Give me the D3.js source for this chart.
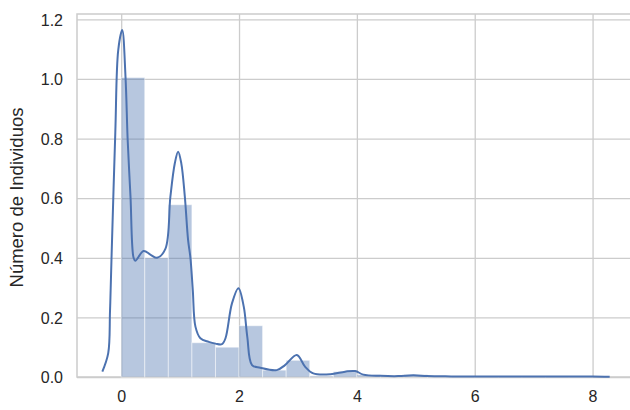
<!DOCTYPE html>
<html><head><meta charset="utf-8">
<script src="https://cdn.jsdelivr.net/npm/d3@7"></script>
<style>body{margin:0;background:#fff}svg{display:block}</style>
</head><body>
<svg id="c" width="630" height="410"></svg>
<script>
// Histogram bins (start edges, width 0.4) and density heights
const binEdges = [0,0.4,0.8,1.2,1.6,2.0,2.4,2.8,3.2,3.6,4.0,4.4,4.8,5.2,5.6,6.0,6.4,6.8,7.2,7.6,8.0];
const binHeights = [1.005,0.40,0.578,0.115,0.10,0.172,0.023,0.056,0.004,0.018,0.008,0.003,0.008,0.002,0.001,0.001,0.001,0.001,0.001,0.002];
// KDE curve
const kdeX = [-0.32,-0.22,-0.19,-0.164,-0.1,-0.05,0.017,0.073,0.11,0.158,0.21,0.24,0.38,0.5,0.61,0.75,0.835,0.91,0.966,1.02,1.08,1.135,1.175,1.215,1.26,1.344,1.485,1.6,1.71,1.77,1.88,1.99,2.08,2.14,2.22,2.36,2.64,2.78,2.98,3.12,3.26,3.55,3.8,3.97,4.11,4.4,4.7,4.96,5.19,5.6,6.5,7.5,8.0,8.29];
const kdeY = [0.018,0.08,0.22,0.40,0.82,1.097,1.164,1.008,0.795,0.605,0.40,0.39,0.423,0.41,0.40,0.43,0.605,0.717,0.756,0.717,0.605,0.46,0.40,0.292,0.169,0.13,0.118,0.112,0.11,0.13,0.247,0.298,0.236,0.135,0.04,0.031,0.023,0.04,0.074,0.035,0.012,0.009,0.018,0.02,0.008,0.004,0.003,0.006,0.003,0.002,0.002,0.002,0.002,0.001];
const xTicks = [0,2,4,6,8];
const yTicks = [0,0.2,0.4,0.6,0.8,1.0,1.2];
const yLabel = "Número de Individuos";

const W = 630, H = 410;
const m = {l:77, t:14, r:635, b:377};
const svg = d3.select("#c");
const x = d3.scaleLinear().domain([-0.75, 8.72]).range([m.l, m.r]);
const y = d3.scaleLinear().domain([0, 1.218]).range([m.b, m.t]);
const gridC = "#cccccc", textC = "#262626", blue = "#4c72b0";
const font = "'Liberation Sans', Arial, sans-serif";

// grid
const gx = svg.append("g").attr("transform",`translate(0,${m.b})`)
  .call(d3.axisBottom(x).tickValues(xTicks).tickSize(-(m.b-m.t)).tickPadding(14).tickFormat(d3.format("d")));
const gy = svg.append("g").attr("transform",`translate(${m.l},0)`)
  .call(d3.axisLeft(y).tickValues(yTicks).tickSize(-(m.r-m.l)).tickPadding(14).tickFormat(d3.format(".1f")));
[gx,gy].forEach(g=>{
  g.select(".domain").remove();
  g.selectAll(".tick line").attr("stroke",gridC).attr("stroke-width",1.3);
  g.selectAll(".tick text").attr("fill",textC).style("font-family",font).style("font-size","16px");
});
gy.selectAll(".tick text").attr("dy","0.36em");

// spines
svg.append("rect").attr("x",m.l).attr("y",m.t).attr("width",m.r-m.l).attr("height",m.b-m.t)
  .attr("fill","none").attr("stroke",gridC).attr("stroke-width",1.5);

// bars
svg.append("g").selectAll("rect").data(binHeights).join("rect")
  .attr("x",(d,i)=>x(binEdges[i]))
  .attr("width",(d,i)=>x(binEdges[i+1])-x(binEdges[i]))
  .attr("y",d=>y(d))
  .attr("height",d=>y(0)-y(d))
  .attr("fill",blue).attr("fill-opacity",0.4)
  .attr("stroke","#ffffff").attr("stroke-opacity",0.5).attr("stroke-width",1);

// kde
const pts = kdeX.map((v,i)=>[v,kdeY[i]]);
svg.append("path").datum(pts)
  .attr("d", d3.line().x(d=>x(d[0])).y(d=>y(d[1])).curve(d3.curveCatmullRom.alpha(0.5)))
  .attr("fill","none").attr("stroke",blue).attr("stroke-width",2);

// y label
svg.append("text").attr("transform",`translate(23,${(m.t+m.b)/2+2}) rotate(-90)`)
  .attr("text-anchor","middle").attr("fill",textC)
  .style("font-family",font).style("font-size","18.5px").text(yLabel);
</script>
</body></html>
